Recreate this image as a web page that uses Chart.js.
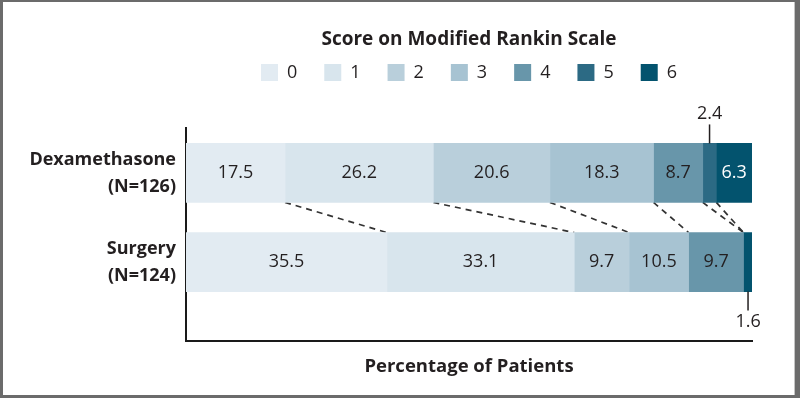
<!DOCTYPE html>
<html>
<head>
<meta charset="utf-8">
<script src="https://cdn.jsdelivr.net/npm/chart.js@4.4.1/dist/chart.umd.min.js"></script>
<style>
  html, body { margin: 0; padding: 0; background: #fff; }
  #wrap { width: 800px; height: 398px; position: relative; }
</style>
</head>
<body>
<div id="wrap"><canvas id="rankinChart"></canvas></div>
<script>
const groups = [['Dexamethasone', '(N=126)'], ['Surgery', '(N=124)']]
const scores = ['0', '1', '2', '3', '4', '5', '6']
const dexamethasone = [17.5, 26.2, 20.6, 18.3, 8.7, 2.4, 6.3]
const surgery = [35.5, 33.1, 9.7, 10.5, 9.7, 0, 1.6]

const scoreColors = ['#e2ebf2', '#d8e5ed', '#b9cfdb', '#a7c3d2', '#6896aa', '#2c6a84', '#03536e']
const textColor = '#231f20'
const fontFamily = '"Open Sans", Lato, sans-serif'

// dashed lines joining the same score boundary in both bars
const connectors = {
  id: 'connectors',
  beforeDatasetsDraw(chart) {
    const { ctx, scales: { x } } = chart
    const meta = chart.getDatasetMeta(0)
    const upper = meta.data[0]
    const lower = meta.data[1]
    const y1 = upper.y + upper.height / 2
    const y2 = lower.y - lower.height / 2
    let a = 0
    let b = 0
    ctx.save()
    ctx.setLineDash([6, 5])
    ctx.lineWidth = 1.7
    ctx.strokeStyle = '#333'
    for (let i = 0; i < scores.length - 1; i++) {
      a += dexamethasone[i]
      b += surgery[i]
      ctx.beginPath()
      ctx.moveTo(x.getPixelForValue(a), y1)
      ctx.lineTo(x.getPixelForValue(b), y2)
      ctx.stroke()
    }
    ctx.restore()
  }
}

// percentages inside the segments, small ones outside with a leader
const valueLabels = {
  id: 'valueLabels',
  afterDatasetsDraw(chart) {
    const ctx = chart.ctx
    ctx.save()
    ctx.font = '18px ' + fontFamily
    ctx.textAlign = 'center'
    ctx.textBaseline = 'middle'
    chart.data.datasets.forEach((ds, di) => {
      chart.getDatasetMeta(di).data.forEach((bar, i) => {
        const v = ds.data[i].x
        if (!v) return
        const cx = (bar.x + bar.base) / 2
        if (v < 3) {
          const dir = i === 0 ? -1 : 1
          const edge = bar.y + dir * bar.height / 2
          ctx.strokeStyle = textColor
          ctx.lineWidth = 1.5
          ctx.beginPath()
          ctx.moveTo(cx, edge)
          ctx.lineTo(cx, edge + dir * 19)
          ctx.stroke()
          ctx.fillStyle = textColor
          ctx.fillText(v.toFixed(1), cx, edge + dir * 30)
        } else {
          ctx.fillStyle = di >= 5 ? '#fff' : textColor
          ctx.fillText(v.toFixed(1), cx, bar.y)
        }
      })
    })
    ctx.restore()
  }
}

const frame = {
  id: 'frame',
  afterDraw(chart) {
    const { ctx, width, height } = chart
    ctx.save()
    ctx.fillStyle = '#6b6b6b'
    ctx.fillRect(0, 0, width, 2)
    ctx.fillRect(0, 0, 3, height)
    ctx.fillRect(width - 5, 0, 5, height)
    ctx.fillRect(0, height - 3, width, 3)
    ctx.fillStyle = '#c4c4c4'
    ctx.fillRect(width - 6, 2, 1, height - 5)
    ctx.restore()
  }
}

const datasets = scores.map((s, i) => ({
  label: s,
  data: [{ x: dexamethasone[i], y: 0 }, { x: surgery[i], y: 1 }],
  backgroundColor: scoreColors[i],
  borderWidth: 0,
  barThickness: 59
}))

new Chart(document.getElementById('rankinChart'), {
  type: 'bar',
  data: { datasets },
  plugins: [connectors, valueLabels, frame],
  options: {
    indexAxis: 'y',
    responsive: true,
    maintainAspectRatio: false,
    animation: false,
    layout: { padding: { left: 0, right: 48, top: 0, bottom: 0 } },
    plugins: {
      tooltip: { enabled: false },
      title: {
        display: true,
        text: 'Score on Modified Rankin Scale',
        fullSize: false,
        color: textColor,
        font: { family: fontFamily, size: 19, weight: 'bold' },
        padding: { top: 28, bottom: -14.3 }
      },
      legend: {
        display: true,
        position: 'top',
        fullSize: false,
        labels: {
          boxWidth: 17,
          boxHeight: 17,
          padding: 27,
          color: textColor,
          font: { family: fontFamily, size: 18 }
        }
      }
    },
    scales: {
      x: {
        stacked: true,
        min: 0,
        max: 100,
        grid: { display: false, drawTicks: false },
        border: { display: true, color: '#1a1a1a', width: 2 },
        ticks: { display: false },
        title: {
          display: true,
          text: 'Percentage of Patients',
          color: textColor,
          font: { family: fontFamily, size: 18.5, weight: 'bold' },
          padding: { top: 15, bottom: 20 }
        }
      },
      xSpacer: {
        axis: 'x',
        type: 'linear',
        position: 'top',
        grid: { display: false, drawTicks: false },
        border: { display: false },
        ticks: { display: false },
        afterFit(scale) { scale.height = 36.5 }
      },
      y: {
        type: 'linear',
        stacked: true,
        reverse: true,
        offset: false,
        min: -0.504,
        max: 1.883,
        grid: { display: false, drawTicks: false },
        border: { display: true, color: '#1a1a1a', width: 2 },
        afterBuildTicks(scale) {
          scale.ticks = groups.map((g, i) => ({ value: i }))
        },
        afterFit(scale) { scale.width = 186 },
        ticks: {
          padding: 10,
          color: textColor,
          font: { family: fontFamily, size: 18, weight: 'bold', lineHeight: 1.5 },
          callback: (value) => groups[value]
        }
      }
    }
  }
})
</script>
</body>
</html>
